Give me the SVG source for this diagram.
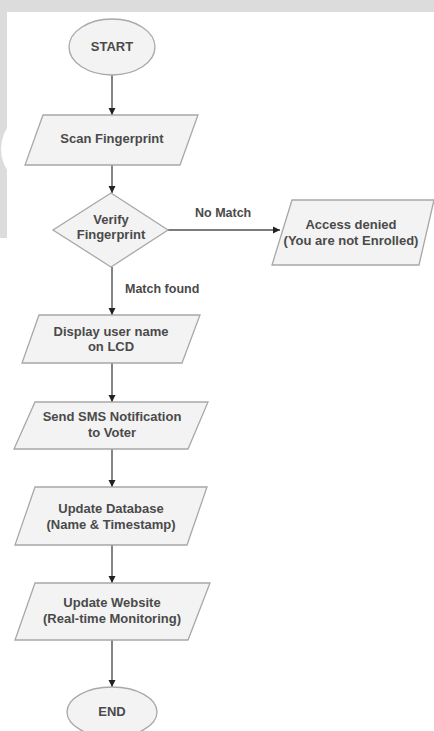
<svg xmlns="http://www.w3.org/2000/svg" width="434" height="731" viewBox="0 0 434 731">
<style>
.shape{fill:#f3f3f3;stroke:#a8a8a8;stroke-width:1.3}
.t{font-family:"Liberation Sans",Arial,sans-serif;font-size:13px;font-weight:bold;fill:#4a4a4a;text-anchor:middle}
.lbl{font-family:"Liberation Sans",Arial,sans-serif;font-size:12.5px;font-weight:bold;fill:#4a4a4a}
.c{fill:none;stroke:#505050;stroke-width:1.4}
</style>
<defs>
<marker id="ah" markerUnits="userSpaceOnUse" markerWidth="8" markerHeight="8" refX="7" refY="4" orient="auto">
<path d="M0,0.5 L7,4 L0,7.5 z" fill="#222"/>
</marker>
</defs>
<rect width="434" height="731" fill="#ffffff"/>
<g id="background">
<rect x="0" y="0" width="434" height="12" fill="#dcdcdc"/>
<rect x="0" y="0" width="7" height="238" fill="#dcdcdc"/>
<circle cx="41" cy="149" r="40" fill="#ffffff"/>
</g>
<g id="connectors">
<line class="c" x1="112" y1="75" x2="112" y2="115" marker-end="url(#ah)"/>
<line class="c" x1="112" y1="165" x2="112" y2="193" marker-end="url(#ah)"/>
<line class="c" x1="168" y1="230" x2="280" y2="230" marker-end="url(#ah)"/>
<line class="c" x1="112" y1="267" x2="112" y2="315" marker-end="url(#ah)"/>
<line class="c" x1="112" y1="363" x2="112" y2="402" marker-end="url(#ah)"/>
<line class="c" x1="112" y1="449" x2="112" y2="487" marker-end="url(#ah)"/>
<line class="c" x1="112" y1="545" x2="112" y2="583" marker-end="url(#ah)"/>
<line class="c" x1="112" y1="640" x2="112" y2="687" marker-end="url(#ah)"/>
<text class="lbl" x="195" y="217">No Match</text>
<text class="lbl" x="125" y="293">Match found</text>
</g>
<g id="start">
<ellipse class="shape" cx="112" cy="47" rx="43" ry="28"/>
<text class="t" x="112" y="51">START</text>
</g>
<g id="scan">
<polygon class="shape" points="43,115 198,115 180,165 25,165"/>
<text class="t" x="112" y="143">Scan Fingerprint</text>
</g>
<g id="verify">
<polygon class="shape" points="111,193 168,230 111,267 53,230"/>
<text class="t" x="111" y="224">Verify</text>
<text class="t" x="111" y="239">Fingerprint</text>
</g>
<g id="denied">
<polygon class="shape" points="292,200 434,200 419,265 272,265"/>
<text class="t" x="351" y="229">Access denied</text>
<text class="t" x="351" y="245">(You are not Enrolled)</text>
</g>
<g id="display">
<polygon class="shape" points="39,315 200,315 182,363 22,363"/>
<text class="t" x="111" y="336">Display user name</text>
<text class="t" x="111" y="351">on LCD</text>
</g>
<g id="sms">
<polygon class="shape" points="35,402 208,402 188,449 14,449"/>
<text class="t" x="112" y="421">Send SMS Notification</text>
<text class="t" x="112" y="437">to Voter</text>
</g>
<g id="database">
<polygon class="shape" points="35,487 207,487 187,545 15,545"/>
<text class="t" x="111" y="513">Update Database</text>
<text class="t" x="111" y="529">(Name &amp; Timestamp)</text>
</g>
<g id="website">
<polygon class="shape" points="35,583 210,583 188,640 15,640"/>
<text class="t" x="112" y="607">Update Website</text>
<text class="t" x="112" y="623">(Real-time Monitoring)</text>
</g>
<g id="end">
<ellipse class="shape" cx="112" cy="712" rx="45" ry="25"/>
<text class="t" x="112" y="716">END</text>
</g>
</svg>
